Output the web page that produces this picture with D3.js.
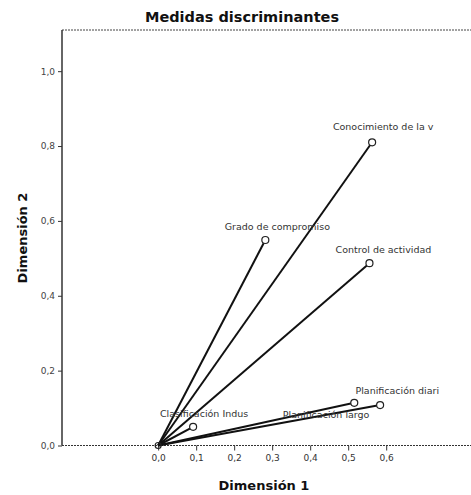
<!DOCTYPE html>
<html>
<head>
<meta charset="utf-8">
<script src="https://cdn.jsdelivr.net/npm/d3@7"></script>
<style>
  html, body { margin: 0; padding: 0; background: #fff; }
  svg { display: block; font-family: "DejaVu Sans", Arial, sans-serif; }
</style>
</head>
<body>
<svg id="chart" width="471" height="495"></svg>
<script>
// Discrimination measures per variable (dimension 1, dimension 2)
const variables = ["Conocimiento de la v", "Grado de compromiso", "Control de actividad",
                   "Planificación diari", "Planificación largo", "Clasificación Indus"];
const dim1 = [0.563, 0.282, 0.556, 0.516, 0.584, 0.092];
const dim2 = [0.810, 0.549, 0.487, 0.114, 0.108, 0.050];

const xTicks = [0.0, 0.1, 0.2, 0.3, 0.4, 0.5, 0.6];
const yTicks = [0.0, 0.2, 0.4, 0.6, 0.8, 1.0];

const svg = d3.select("#chart");
const plot = { left: 62, right: 466, top: 30, bottom: 445.5 };

const x = d3.scaleLinear().domain([-0.253, 0.81]).range([plot.left, plot.right]);
const y = d3.scaleLinear().domain([0, 1.11]).range([plot.bottom, plot.top]);
const fmt = d => d3.format(".1f")(d).replace(".", ",");

// Title
svg.append("text")
  .attr("x", 242).attr("y", 22)
  .attr("text-anchor", "middle")
  .attr("font-size", 14.5).attr("font-weight", "bold")
  .attr("fill", "#111")
  .text("Medidas discriminantes");

// Frame: top edge is dotted
svg.append("line")
  .attr("x1", plot.left).attr("x2", 471)
  .attr("y1", plot.top).attr("y2", plot.top)
  .attr("stroke", "#444").attr("stroke-width", 1)
  .attr("stroke-dasharray", "2,1");

// X axis along y = 0
const xAxis = svg.append("g")
  .attr("transform", `translate(0,${y(0)})`)
  .call(d3.axisBottom(x).tickValues(xTicks).tickFormat(fmt).tickSize(5).tickPadding(4));
xAxis.select(".domain").remove();
xAxis.append("line")
  .attr("x1", plot.left).attr("x2", 471)
  .attr("stroke", "#333").attr("stroke-width", 1.2)
  .attr("stroke-dasharray", "2,1");
xAxis.selectAll(".tick line").attr("stroke", "#333");
xAxis.selectAll(".tick text").attr("font-size", 9).attr("fill", "#333")
  .attr("font-family", "'DejaVu Sans', Arial, sans-serif");

// Y axis on the left edge
const yAxis = svg.append("g")
  .attr("transform", `translate(${plot.left},0)`)
  .call(d3.axisLeft(y).tickValues(yTicks).tickFormat(fmt).tickSize(4).tickPadding(3));
yAxis.select(".domain").remove();
yAxis.append("line")
  .attr("y1", plot.top).attr("y2", plot.bottom)
  .attr("stroke", "#333").attr("stroke-width", 1.5);
yAxis.selectAll(".tick line").attr("stroke", "#333");
yAxis.selectAll(".tick text").attr("font-size", 9).attr("fill", "#444")
  .attr("font-family", "'DejaVu Sans', Arial, sans-serif");

// Axis titles
svg.append("text")
  .attr("x", 264).attr("y", 490)
  .attr("text-anchor", "middle")
  .attr("font-size", 13).attr("font-weight", "bold").attr("fill", "#111")
  .text("Dimensión 1");
svg.append("text")
  .attr("transform", "translate(27,238) rotate(-90)")
  .attr("text-anchor", "middle")
  .attr("font-size", 13).attr("font-weight", "bold").attr("fill", "#111")
  .text("Dimensión 2");

const data = variables.map((name, i) => ({ name, d1: dim1[i], d2: dim2[i] }));

// Vectors from the origin to each variable
svg.append("g").selectAll("line")
  .data(data)
  .join("line")
  .attr("x1", x(0)).attr("y1", y(0))
  .attr("x2", d => x(d.d1)).attr("y2", d => y(d.d2))
  .attr("stroke", "#111").attr("stroke-width", 2);

// Origin marker
svg.append("circle")
  .attr("cx", x(0)).attr("cy", y(0)).attr("r", 3)
  .attr("fill", "none").attr("stroke", "#222").attr("stroke-width", 1.2);

// End-point markers
svg.append("g").selectAll("circle")
  .data(data)
  .join("circle")
  .attr("cx", d => x(d.d1)).attr("cy", d => y(d.d2)).attr("r", 3.5)
  .attr("fill", "#fff").attr("stroke", "#222").attr("stroke-width", 1.2);

// Label placement relative to each marker
const labelShift = {
  "Conocimiento de la v": [11, -12],
  "Grado de compromiso": [12, -10],
  "Control de actividad": [14, -10],
  "Planificación diari": [43, -9],
  "Planificación largo": [-54, 13],
  "Clasificación Indus": [11, -10]
};

svg.append("g").selectAll("text")
  .data(data)
  .join("text")
  .attr("x", d => x(d.d1) + labelShift[d.name][0])
  .attr("y", d => y(d.d2) + labelShift[d.name][1])
  .attr("text-anchor", "middle")
  .attr("font-size", 9.5).attr("fill", "#333")
  .text(d => d.name);
</script>
</body>
</html>
